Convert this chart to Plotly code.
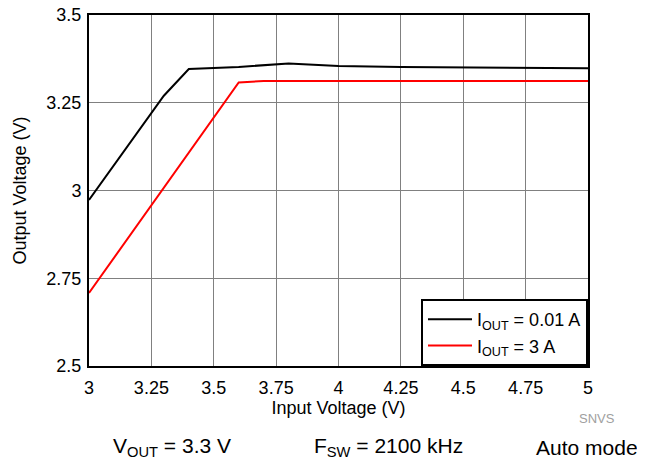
import plotly.graph_objects as go

vin_black = [3.0, 3.3, 3.4, 3.6, 3.8, 4.0, 4.25, 4.5, 4.75, 5.0]
vout_black = [2.973, 3.27, 3.346, 3.352, 3.362, 3.355, 3.352, 3.35, 3.349, 3.348]
vin_red = [3.0, 3.6, 3.7, 4.0, 4.5, 5.0]
vout_red = [2.708, 3.308, 3.312, 3.312, 3.312, 3.312]

x_ticks = [3, 3.25, 3.5, 3.75, 4, 4.25, 4.5, 4.75, 5]
x_ticklabels = ["3", "3.25", "3.5", "3.75", "4", "4.25", "4.5", "4.75", "5"]
y_ticks = [2.5, 2.75, 3, 3.25, 3.5]
y_ticklabels = ["2.5", "2.75", "3", "3.25", "3.5"]

FONT = "Liberation Sans, Arial, sans-serif"

# plot area in reference pixels
PL, PR, PT, PB = 89, 588, 15, 366
PW, PH = PR - PL, PB - PT
OFF = 8  # page body margin

fig = go.Figure()
fig.add_trace(go.Scatter(x=vin_black, y=vout_black, mode="lines",
                         line=dict(color="black", width=2),
                         name="I<sub>OUT</sub> = 0.01 A"))
fig.add_trace(go.Scatter(x=vin_red, y=vout_red, mode="lines",
                         line=dict(color="#ff0000", width=2),
                         name="I<sub>OUT</sub> = 3 A"))

fig.update_layout(
    width=645, height=460,
    margin=dict(l=PL - OFF, r=645 - (PR - OFF), t=PT - OFF, b=460 - (PB - OFF)),
    paper_bgcolor="white", plot_bgcolor="white",
    font=dict(family=FONT, size=18, color="black"),
    showlegend=True,
    legend=dict(x=1, y=0, xanchor="right", yanchor="bottom",
                bgcolor="white", bordercolor="black", borderwidth=2,
                font=dict(size=18, family=FONT), tracegroupgap=0,
                itemwidth=44),
    xaxis=dict(range=[3, 5], tickvals=x_ticks, ticktext=x_ticklabels,
               showgrid=True, gridcolor="#808080", gridwidth=1,
               showline=True, linecolor="black", linewidth=2, mirror=True,
               ticks="", zeroline=False, automargin=False,
               ticklabeloverflow="allow", ticklabelstandoff=4,
               tickfont=dict(size=18),
               title=dict(text="Input Voltage (V)", standoff=5,
                          font=dict(size=18))),
    yaxis=dict(range=[2.5, 3.5], tickvals=y_ticks, ticktext=y_ticklabels,
               showgrid=True, gridcolor="#808080", gridwidth=1,
               showline=True, linecolor="black", linewidth=2, mirror=True,
               ticks="", zeroline=False, automargin=False,
               ticklabeloverflow="allow", ticklabelstandoff=2,
               tickfont=dict(size=18),
               title=dict(text="Output Voltage (V)", standoff=15,
                          font=dict(size=18))),
)

fig.add_annotation(x=(597 - PL) / PW, y=-(418 - PB) / PH, xref="paper",
                   yref="paper", text="SNVS", showarrow=False,
                   xanchor="center", yanchor="middle",
                   font=dict(size=13, color="#a0a0a0"))
annos = [(172, "V<sub>OUT</sub> = 3.3 V"), (388, "F<sub>SW</sub> = 2100 kHz"),
         (587, "Auto mode")]
for px, txt in annos:
    fig.add_annotation(x=(px - PL) / PW, y=-(447 - PB) / PH,
                       xref="paper", yref="paper", text=txt, showarrow=False,
                       xanchor="center", yanchor="middle",
                       font=dict(size=21, family=FONT))

fig.write_html("out.html")
